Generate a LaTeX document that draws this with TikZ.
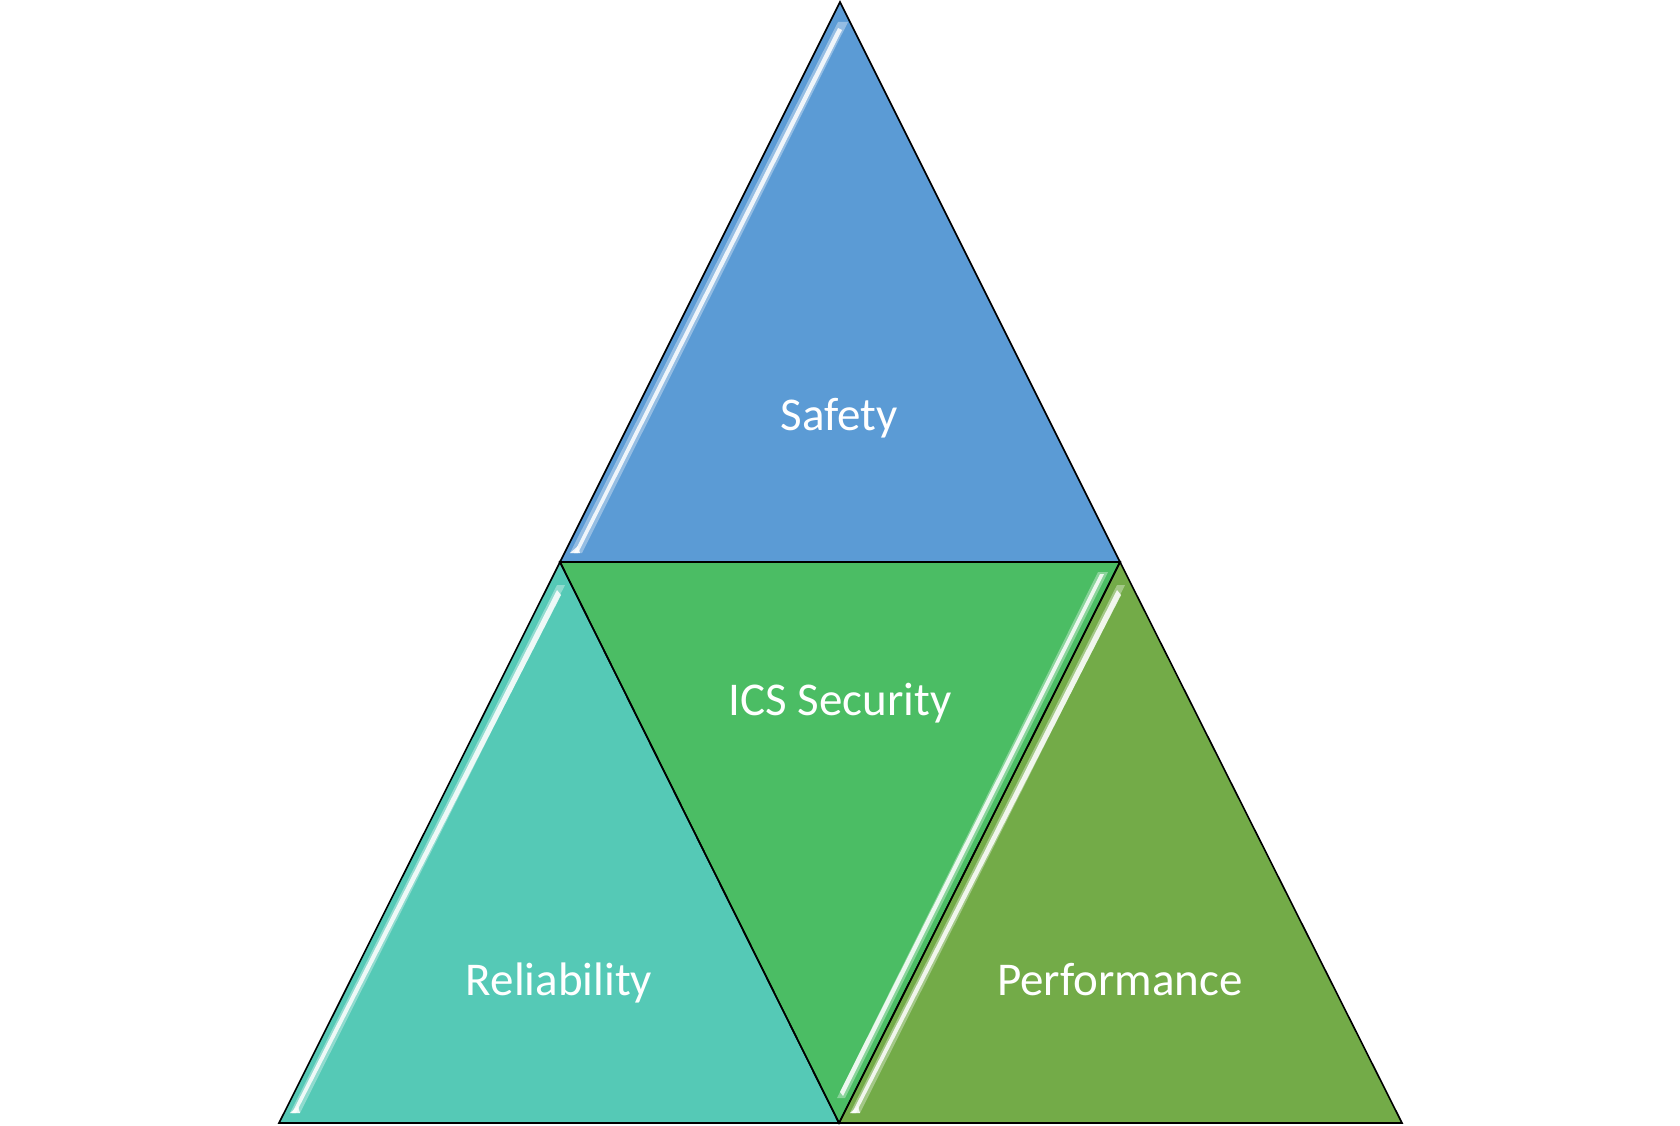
\documentclass[tikz,border=0pt]{standalone}
\usepackage{fontspec}
\setmainfont{Carlito}
\usetikzlibrary{calc}
\definecolor{safetyc}{HTML}{5B9BD5}
\definecolor{icsc}{HTML}{4BBD64}
\definecolor{relc}{HTML}{55C9B6}
\definecolor{perfc}{HTML}{73AB48}
\tikzset{
  tri/.style={draw=black, line width=1.6pt, line join=miter},
  lbl/.style={text=white, font=\fontsize{47}{56}\selectfont, inner sep=0pt, anchor=base},
  glow/.style={fill=white, opacity=0.35, draw=none},
  shine/.style={fill=white, opacity=0.85, draw=none}
}
\begin{document}
\begin{tikzpicture}[x=1pt,y=-1pt]
\useasboundingbox (0,0) rectangle (1680,1126);
% corner coordinates
\coordinate (apex) at (840,2);
\coordinate (ml) at (560,562);
\coordinate (mr) at (1120,562);
\coordinate (bl) at (279,1123);
\coordinate (bm) at (839,1123);
\coordinate (br) at (1402,1123);

% fills
\fill[safetyc] (apex) -- (ml) -- (mr) -- cycle;
\fill[relc] (ml) -- (bl) -- (bm) -- cycle;
\fill[icsc] (ml) -- (mr) -- (bm) -- cycle;
\fill[perfc] (mr) -- (bm) -- (br) -- cycle;

% highlights: top triangle (left edge)
\fill[glow] (838,22) -- (848,22) -- (582,553) -- (570,553) -- cycle;
\fill[shine] (838,28) -- (842,30) -- (578,553) -- (574,553) -- cycle;
\fill[shine] (570,553) -- (578,546) -- (580,553) -- cycle;
% reliability (left edge)
\fill[glow] (557,585) -- (565,585) -- (300,1113) -- (290,1113) -- cycle;
\fill[shine] (557,590) -- (561,595) -- (296,1113) -- (292,1113) -- cycle;
\fill[shine] (290,1113) -- (298,1106) -- (300,1113) -- cycle;
% performance (left edge)
\fill[glow] (1117,585) -- (1125,585) -- (860,1113) -- (850,1113) -- cycle;
\fill[shine] (1117,590) -- (1121,595) -- (856,1113) -- (852,1113) -- cycle;
\fill[shine] (850,1113) -- (858,1106) -- (860,1113) -- cycle;
% ics (right edge, inside)
\fill[glow] (1098,572) -- (1108,572) -- (845,1098) -- (837,1098) -- cycle;
\fill[shine] (1100,574) -- (1104,574) -- (843,1096) -- (840,1092) -- cycle;

% outlines
\draw[tri] (apex) -- (ml) -- (mr) -- cycle;
\draw[tri] (ml) -- (bl) -- (bm) -- cycle;
\draw[tri] (ml) -- (mr) -- (bm) -- cycle;
\draw[tri] (mr) -- (bm) -- (br) -- cycle;

% labels
\node[lbl] (safety) at (839,430) {Safety};
\node[lbl] (ics) at (840,715) {ICS Security};
\node[lbl] (rel) at (559,995) {Reliability};
\node[lbl] (perf) at (1120,995) {Performance};
\end{tikzpicture}
\end{document}
